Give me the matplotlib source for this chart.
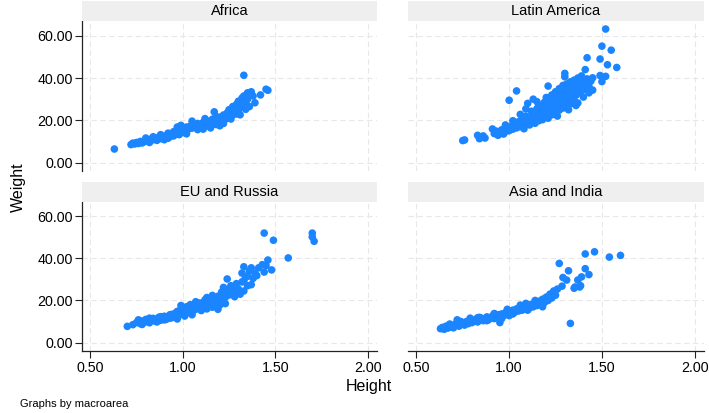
import matplotlib
matplotlib.use("Agg")
import matplotlib.pyplot as plt

plt.rcParams['font.family'] = ['Liberation Sans', 'DejaVu Sans']

panels = ["Africa", "Latin America", "EU and Russia", "Asia and India"]

africa_h = [0.63, 0.72, 0.73, 0.74, 0.75, 0.76, 0.77, 0.78, 0.79, 0.80, 0.81, 0.82, 0.83, 0.84,
            0.85, 0.86, 0.87, 0.88, 0.89, 0.90, 0.91, 0.92, 0.93, 0.94, 0.95, 0.96, 0.97, 0.98,
            0.99, 1.00, 1.00, 1.01, 1.02, 1.03, 1.04, 1.05, 1.06, 1.07, 1.08, 1.09, 1.10, 1.11,
            1.12, 1.13, 1.14, 1.15, 1.16, 1.17, 1.17, 1.18, 1.19, 1.20, 1.21, 1.22, 1.22, 1.23,
            1.24, 1.24, 1.25, 1.26, 1.27, 1.27, 1.28, 1.29, 1.30, 1.30, 1.31, 1.32, 1.32, 1.33,
            1.33, 1.34, 1.35, 1.35, 1.36, 1.37, 1.38, 1.39, 1.42, 1.45, 1.46,
            0.80, 0.84, 0.88, 0.92, 0.95, 0.97, 1.02, 1.05, 1.08, 1.12, 1.15, 1.18, 1.20,
            1.26, 1.29, 1.31, 1.34, 0.90, 0.99, 1.11]
africa_w = [6.4, 8.5, 9.2, 8.8, 9.5, 9.0, 10.0, 9.3, 9.8, 10.6, 10.2, 9.5, 11.2, 10.8,
            11.5, 10.5, 12.0, 11.3, 12.4, 11.8, 12.8, 11.5, 12.2, 13.0, 12.6, 13.5, 14.5, 13.2,
            15.5, 14.2, 16.5, 15.0, 16.8, 15.8, 17.2, 16.3, 18.0, 17.0, 18.5, 16.5, 17.8, 19.0,
            18.2, 17.5, 19.5, 18.8, 20.5, 19.2, 24.0, 18.0, 20.0, 21.5, 19.5, 22.5, 18.5, 20.5,
            23.5, 21.0, 25.0, 24.0, 26.5, 22.5, 25.5, 27.5, 24.5, 29.0, 26.0, 30.5, 27.5, 41.3,
            31.5, 28.5, 30.0, 33.0, 26.5, 33.5, 31.5, 28.3, 32.0, 34.7, 34.2,
            11.6, 12.2, 13.2, 13.9, 14.6, 16.8, 13.6, 19.6, 15.6, 20.8, 16.4, 21.8, 17.4,
            20.6, 23.0, 22.6, 25.2, 10.8, 17.6, 15.8]

latam_h = [0.75, 0.76, 0.83, 0.84, 0.85, 0.86, 0.87, 0.91, 0.92, 0.93, 0.94, 0.95, 0.96, 0.97,
           0.98, 0.99, 1.00, 1.00, 1.01, 1.02, 1.03, 1.04, 1.04, 1.05, 1.06, 1.07, 1.08, 1.09,
           1.10, 1.10, 1.11, 1.11, 1.12, 1.13, 1.13, 1.14, 1.14, 1.15, 1.15, 1.16, 1.16, 1.17,
           1.17, 1.18, 1.18, 1.19, 1.19, 1.20, 1.20, 1.21, 1.21, 1.21, 1.22, 1.22, 1.23, 1.23,
           1.23, 1.24, 1.24, 1.25, 1.25, 1.25, 1.26, 1.26, 1.27, 1.27, 1.27, 1.28, 1.28, 1.29,
           1.29, 1.29, 1.30, 1.30, 1.30, 1.30, 1.31, 1.31, 1.31, 1.32, 1.32, 1.33, 1.33, 1.33,
           1.34, 1.34, 1.35, 1.35, 1.35, 1.36, 1.36, 1.37, 1.37, 1.37, 1.38, 1.38, 1.39, 1.39,
           1.40, 1.40, 1.41, 1.41, 1.42, 1.42, 1.43, 1.44, 1.45, 1.45, 1.49, 1.49, 1.50, 1.50,
           1.52, 1.52, 1.53, 1.55, 1.58,
           0.98, 1.02, 1.06, 1.09, 1.12, 1.16, 1.19, 1.22, 1.26, 1.28, 1.32, 1.36, 1.40, 1.43,
           1.08, 1.15, 1.24, 1.34]
latam_w = [10.4, 10.7, 12.9, 11.3, 11.9, 12.6, 11.6, 15.9, 13.7, 14.9, 12.9, 14.2, 15.5, 13.5,
           14.6, 16.4, 15.1, 29.5, 17.2, 15.8, 18.5, 33.9, 16.4, 19.3, 17.0, 20.5, 18.1, 22.0,
           28.0, 19.4, 17.8, 21.2, 24.3, 30.0, 20.0, 23.0, 18.6, 25.5, 21.5, 19.8, 27.0, 23.8,
           22.0, 26.2, 20.3, 28.5, 24.6, 22.4, 30.8, 36.2, 26.8, 21.0, 29.2, 24.0, 32.0, 27.5,
           22.6, 25.3, 30.2, 33.5, 28.0, 23.4, 26.4, 31.2, 35.0, 29.0, 24.8, 32.5, 27.2, 36.5,
           30.2, 25.8, 42.2, 40.6, 33.8, 28.5, 37.2, 31.0, 26.5, 35.0, 29.6, 38.2, 33.0, 27.8,
           36.0, 30.5, 39.0, 34.2, 29.0, 37.0, 31.8, 40.0, 35.5, 28.2, 38.0, 33.0, 41.0, 36.5,
           39.0, 34.5, 44.0, 37.5, 49.6, 39.6, 36.0, 38.5, 40.1, 34.3, 49.0, 41.2, 55.1, 38.3,
           63.2, 40.8, 46.3, 53.2, 45.0,
           17.8, 19.8, 22.8, 25.4, 18.8, 24.6, 21.8, 26.6, 22.0, 34.6, 25.0, 27.0, 31.0, 33.0,
           16.0, 28.8, 28.2, 33.6]

eu_h = [0.70, 0.73, 0.75, 0.76, 0.77, 0.78, 0.79, 0.80, 0.81, 0.82, 0.83, 0.84, 0.85, 0.86,
        0.87, 0.88, 0.88, 0.89, 0.90, 0.91, 0.92, 0.93, 0.93, 0.94, 0.95, 0.96, 0.97, 0.97,
        0.98, 0.99, 1.00, 1.00, 1.01, 1.02, 1.02, 1.03, 1.04, 1.05, 1.06, 1.06, 1.07, 1.08,
        1.09, 1.09, 1.10, 1.11, 1.12, 1.12, 1.13, 1.14, 1.15, 1.15, 1.16, 1.17, 1.18, 1.18,
        1.19, 1.20, 1.21, 1.21, 1.22, 1.23, 1.23, 1.24, 1.24, 1.25, 1.26, 1.27, 1.28, 1.29,
        1.30, 1.31, 1.32, 1.32, 1.33, 1.33, 1.34, 1.35, 1.35, 1.36, 1.37, 1.37, 1.38, 1.39,
        1.41, 1.43, 1.44, 1.44, 1.46, 1.48, 1.49, 1.57, 1.70, 1.70, 1.71,
        0.78, 0.82, 0.86, 0.90, 0.94, 0.97, 1.01, 1.04, 1.07, 1.10, 1.13, 1.16, 1.19, 1.22,
        1.26, 1.29, 1.33, 1.40, 1.45, 0.99, 1.05]
eu_w = [7.7, 8.5, 9.5, 10.8, 9.0, 10.2, 9.6, 11.0, 10.0, 9.4, 10.6, 11.5, 10.2, 11.0,
        12.0, 10.6, 12.3, 11.4, 12.5, 11.0, 12.2, 13.2, 11.6, 11.8, 12.8, 14.0, 12.4, 14.8,
        15.0, 13.5, 16.0, 13.5, 14.6, 17.0, 14.0, 15.2, 16.4, 14.4, 17.6, 15.5, 15.8, 18.4,
        16.6, 18.8, 15.2, 19.0, 17.4, 20.3, 16.0, 19.8, 18.2, 21.0, 16.8, 20.6, 19.0, 17.2,
        22.0, 17.8, 20.2, 24.0, 23.4, 18.5, 21.5, 30.2, 25.0, 22.6, 27.0, 24.2, 21.8, 28.0,
        25.5, 23.0, 33.0, 28.8, 36.0, 24.5, 31.0, 31.5, 27.0, 34.0, 35.5, 27.5, 30.5, 33.0,
        35.5, 37.0, 52.0, 33.5, 39.2, 34.5, 48.6, 40.2, 52.0, 50.2, 48.1,
        8.6, 11.6, 9.8, 10.8, 13.4, 11.2, 12.6, 18.0, 19.4, 17.8, 21.4, 22.4, 15.8, 26.2,
        23.8, 25.0, 29.4, 31.8, 36.6, 17.6, 13.2]

asia_h = [0.63, 0.64, 0.65, 0.66, 0.67, 0.68, 0.69, 0.70, 0.71, 0.72, 0.72, 0.73, 0.74, 0.75,
          0.76, 0.77, 0.78, 0.79, 0.80, 0.81, 0.82, 0.83, 0.84, 0.85, 0.86, 0.87, 0.88, 0.89,
          0.90, 0.91, 0.92, 0.93, 0.94, 0.95, 0.95, 0.96, 0.97, 0.98, 0.99, 1.00, 1.00, 1.01,
          1.02, 1.03, 1.04, 1.05, 1.06, 1.07, 1.08, 1.09, 1.10, 1.11, 1.12, 1.13, 1.14, 1.15,
          1.16, 1.17, 1.18, 1.19, 1.20, 1.21, 1.22, 1.23, 1.24, 1.25, 1.26, 1.27, 1.285, 1.29,
          1.31, 1.32, 1.33, 1.35, 1.355, 1.37, 1.38, 1.385, 1.39, 1.41, 1.41, 1.43, 1.46, 1.54,
          1.60,
          0.68, 0.74, 0.79, 0.84, 0.88, 0.92, 0.96, 1.02, 1.06, 1.10, 1.14, 1.18, 1.22, 1.09,
          0.83, 0.99]
asia_w = [6.6, 7.2, 6.3, 7.8, 6.9, 7.5, 8.2, 7.0, 8.6, 9.8, 10.8, 7.8, 8.8, 9.4,
          8.3, 10.0, 9.0, 10.6, 9.5, 10.2, 11.0, 9.8, 10.8, 11.6, 10.4, 11.2, 12.2, 10.9,
          11.8, 12.6, 11.4, 12.4, 13.2, 12.0, 9.5, 13.6, 12.8, 14.2, 13.4, 14.8, 12.8, 14.0,
          15.4, 14.4, 16.0, 15.0, 16.4, 15.4, 17.0, 16.0, 17.5, 16.4, 18.2, 17.0, 19.0, 17.6,
          19.6, 18.2, 20.6, 19.0, 21.6, 20.0, 23.0, 21.2, 24.5, 22.5, 25.4, 37.6, 26.8, 30.9,
          29.7, 34.1, 9.1, 25.8, 26.4, 29.7, 26.4, 27.0, 31.2, 35.1, 42.1, 32.3, 43.1, 40.6,
          41.4,
          8.8, 10.0, 11.6, 12.0, 10.4, 13.8, 11.4, 13.6, 17.8, 15.4, 20.0, 17.0, 21.0, 18.6,
          11.8, 15.8]

data = {
    "Africa": (africa_h, africa_w),
    "Latin America": (latam_h, latam_w),
    "EU and Russia": (eu_h, eu_w),
    "Asia and India": (asia_h, asia_w),
}

xticks = [0.5, 1.0, 1.5, 2.0]
yticks = [0, 20, 40, 60]

W, H = 709, 413
fig = plt.figure(figsize=(W / 100, H / 100), dpi=100)


def rect(x0, y0, x1, y1):
    return [x0 / W, 1 - y1 / H, (x1 - x0) / W, (y1 - y0) / H]


layout = {
    "Africa": (82, 21, 377, 171, True, False),
    "Latin America": (408, 21, 704, 171, False, False),
    "EU and Russia": (82, 201.5, 377, 351, True, True),
    "Asia and India": (408, 201.5, 704, 351, False, True),
}

marker_color = "#1a85ff"
for name in panels:
    x0, y0, x1, y1, left, bottom = layout[name]
    ax = fig.add_axes(rect(x0, y0, x1, y1))
    h, w = data[name]
    ax.scatter(h, w, s=30, color=marker_color, edgecolors="none", zorder=3)
    ax.set_xlim(0.455, 2.05)
    ax.set_ylim(-4, 67)
    ax.set_xticks(xticks)
    ax.set_yticks(yticks)
    ax.grid(True, color="#e8e8e8", linestyle=(0, (5, 3)), linewidth=0.8, zorder=0)
    for s in ["top", "right"]:
        ax.spines[s].set_visible(False)
    ax.spines["left"].set_visible(left)
    ax.spines["bottom"].set_visible(bottom)
    for s in ["left", "bottom"]:
        ax.spines[s].set_linewidth(0.9)
        ax.spines[s].set_color("#222222")
    ax.tick_params(axis="y", left=left, labelleft=left, length=5, width=0.8,
                   labelsize=10.3, pad=1.5, color="#222222")
    ax.tick_params(axis="x", bottom=bottom, labelbottom=bottom, length=5, width=0.8,
                   labelsize=10.3, pad=2, color="#222222")
    ax.yaxis.set_major_formatter(matplotlib.ticker.FormatStrFormatter("%.2f"))
    ax.xaxis.set_major_formatter(matplotlib.ticker.FormatStrFormatter("%.2f"))
    # strip title
    sax = fig.add_axes(rect(x0, y0 - 19.5, x1, y0))
    sax.set_facecolor("#efefef")
    sax.set_xticks([])
    sax.set_yticks([])
    for s in sax.spines.values():
        s.set_visible(False)
    sax.text(0.5, 0.5, name, ha="center", va="center", fontsize=10.5, transform=sax.transAxes)

fig.text(18 / W, 1 - 187 / H, "Weight", rotation=90, ha="center", va="center", fontsize=11.5)
fig.text(369 / W, 1 - 387 / H, "Height", ha="center", va="center", fontsize=11.5)
fig.text(20 / W, 1 - 404 / H, "Graphs by macroarea", ha="left", va="center", fontsize=8)

fig.savefig("out.png", dpi=100, facecolor="white")
